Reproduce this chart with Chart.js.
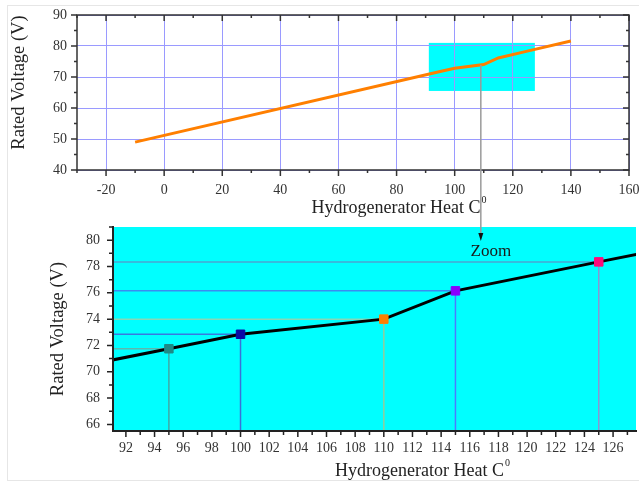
<!DOCTYPE html>
<html>
<head>
<meta charset="utf-8">
<script src="https://cdn.jsdelivr.net/npm/chart.js@4.4.1/dist/chart.umd.min.js"></script>
<style>
    body { margin: 0; background: #fff; width: 639px; height: 482px; overflow: hidden; position: relative; }
    .box { position: absolute; left: 0; width: 639px; }
    #frame { position: absolute; left: 7px; top: 5px; width: 640px; height: 474px; border: 1px solid #e6e6e6; }
    #overlay { position: absolute; left: 0; top: 0; pointer-events: none; }
</style>
</head>
<body>
<div id="frame"></div>
<div class="box" style="top:0;height:222px"><canvas id="topChart"></canvas></div>
<div class="box" style="top:214px;height:268px"><canvas id="zoomChart"></canvas></div>
<canvas id="overlay" width="639" height="482"></canvas>
<script>
// Datos
const HEAT = [-10, 95, 100, 110, 115, 125, 140];
const VOLT = [49.0, 71.75, 72.85, 74.0, 76.15, 78.35, 81.6];
// color del marcador por punto (null = sin marcador)
const MARKER_COLORS = [null, '#1f8a86', '#0a0aa6', '#ff7f00', '#8a00ff', '#ff0a7a', null];
const H_GUIDE = [null, '#5cb8ae', '#3a78e0', '#86d8b8', '#3a8cf0', '#4aa6d2', null];
const V_GUIDE = [null, '#40aaa6', '#3a70d8', '#92cc9c', '#4a7cff', '#8a96d0', null];

const TOP_X_TICKS = [-20, 0, 20, 40, 60, 80, 100, 120, 140, 160];
const TOP_Y_TICKS = [40, 50, 60, 70, 80, 90];
const ZOOM_X_TICKS = [92, 94, 96, 98, 100, 102, 104, 106, 108, 110, 112, 114, 116, 118, 120, 122, 124, 126];
const ZOOM_Y_TICKS = [66, 68, 70, 72, 74, 76, 78, 80];

const ZOOM_X = [91.1, 127.6];
const ZOOM_Y = [65.5, 81];
const ZOOM_MARK = [109, 73.9]; // de donde sale la flecha

const X_TITLE = 'Hydrogenerator Heat C';
const Y_TITLE = 'Rated Voltage (V)';
const SERIF = '"Liberation Serif", "Times New Roman", serif';

// Plugin: marco, ticks mayores/menores y títulos de ejes
const axisDecor = {
    id: 'axisDecor',
    beforeDraw(chart, args, o) {
        const { ctx, chartArea: a, scales } = chart;
        if (o.plotFill) {
            ctx.save();
            ctx.fillStyle = o.plotFill;
            ctx.fillRect(a.left, a.top, a.right - a.left, a.bottom - a.top);
            ctx.restore();
        }
        if (o.zoomRect) {
            const x0 = scales.x.getPixelForValue(ZOOM_X[0]);
            const x1 = scales.x.getPixelForValue(ZOOM_X[1]);
            const y0 = scales.y.getPixelForValue(ZOOM_Y[1]);
            const y1 = scales.y.getPixelForValue(ZOOM_Y[0]);
            ctx.save();
            ctx.fillStyle = '#00ffff';
            ctx.fillRect(x0, y0, x1 - x0, y1 - y0);
            ctx.restore();
        }
    },
    afterDraw(chart, args, o) {
        const { ctx, chartArea: a, scales } = chart;
        ctx.save();
        ctx.strokeStyle = o.axisColor;
        ctx.lineWidth = o.axisWidth;
        ctx.lineCap = 'square';

        // marco
        ctx.beginPath();
        if (o.box) {
            ctx.rect(a.left, a.top, a.right - a.left, a.bottom - a.top);
        } else {
            ctx.moveTo(a.left, a.top);
            ctx.lineTo(a.left, a.bottom);
            ctx.lineTo(a.right, a.bottom);
        }
        ctx.stroke();

        // ticks
        ctx.lineWidth = 1.5;
        ctx.lineCap = 'butt';
        const marks = (scale, step) => {
            const major = scale.ticks.map(t => t.value);
            const out = major.map(v => ({ v, len: o.majorLen }));
            for (let v = Math.ceil(scale.min / step) * step; v <= scale.max + 1e-9; v += step) {
                if (!major.some(m => Math.abs(m - v) < 1e-6)) out.push({ v, len: o.minorLen });
            }
            return out;
        };
        ctx.beginPath();
        o.sides.forEach(s => {
            const scale = s.edge === 'top' || s.edge === 'bottom' ? scales.x : scales.y;
            const step = scale === scales.x ? o.xMinor : o.yMinor;
            marks(scale, step).forEach(({ v, len }) => {
                const p = scale.getPixelForValue(v);
                if (s.edge === 'bottom') { ctx.moveTo(p, a.bottom); ctx.lineTo(p, a.bottom + len); }
                if (s.edge === 'top') { ctx.moveTo(p, a.top); ctx.lineTo(p, a.top + len); }
                if (s.edge === 'left') { ctx.moveTo(a.left, p); ctx.lineTo(a.left - len, p); }
                if (s.edge === 'right') { ctx.moveTo(a.right, p); ctx.lineTo(a.right - len, p); }
            });
        });
        ctx.stroke();

        // títulos
        ctx.fillStyle = '#222';
        ctx.font = '18px ' + SERIF;
        ctx.textBaseline = 'middle';
        ctx.textAlign = 'left';
        const w = ctx.measureText(X_TITLE).width;
        const cx = (a.left + a.right) / 2 + o.xTitleShift;
        ctx.fillText(X_TITLE, cx - w / 2, o.xTitleY);
        ctx.font = '10px ' + SERIF;
        ctx.fillText('0', cx + w / 2 + 1, o.xTitleY - 8);

        ctx.font = '18.5px ' + SERIF;
        ctx.textAlign = 'center';
        ctx.translate(o.yTitleX, (a.top + a.bottom) / 2 + o.yTitleShift);
        ctx.rotate(-Math.PI / 2);
        ctx.fillText(Y_TITLE, 0, 0);
        ctx.restore();
    }
};

function tickFont() {
    return { family: SERIF, size: 14 };
}

// sin relleno extra de los ejes: el área del gráfico la fija layout.padding
function fitAxis(prop, size) {
    return s => {
        s[prop] = size;
        s.paddingLeft = s.paddingRight = s.paddingTop = s.paddingBottom = 0;
    };
}

// Gráfico general
const topChart = new Chart(document.getElementById('topChart'), {
    type: 'line',
    data: {
        datasets: [{
            data: HEAT.map((x, i) => ({ x, y: VOLT[i] })),
            borderColor: '#ff7f00',
            borderWidth: 3,
            pointRadius: 0,
            tension: 0
        }]
    },
    options: {
        responsive: true,
        maintainAspectRatio: false,
        animation: false,
        layout: { padding: { top: 15, right: 10, left: 0, bottom: 0 } },
        plugins: {
            legend: { display: false },
            tooltip: { enabled: false },
            axisDecor: {
                box: true, axisColor: '#333', axisWidth: 1.5,
                majorLen: 6, minorLen: 3, xMinor: 10, yMinor: 5,
                sides: [{ edge: 'bottom' }, { edge: 'top' }, { edge: 'left' }, { edge: 'right' }],
                zoomRect: true,
                xTitleShift: 43, xTitleY: 208,
                yTitleX: 19, yTitleShift: -10
            }
        },
        scales: {
            x: {
                type: 'linear', min: -30, max: 160,
                afterBuildTicks: s => { s.ticks = TOP_X_TICKS.map(v => ({ value: v })); },
                afterFit: fitAxis('height', 52),
                grid: { color: '#9a9aff', lineWidth: 1, drawTicks: false },
                border: { display: false },
                ticks: { font: tickFont(), color: '#333', padding: 12, maxRotation: 0 }
            },
            y: {
                min: 40, max: 90,
                afterBuildTicks: s => { s.ticks = TOP_Y_TICKS.map(v => ({ value: v })); },
                afterFit: fitAxis('width', 77),
                grid: { color: '#9a9aff', lineWidth: 1, drawTicks: false },
                border: { display: false },
                ticks: { font: tickFont(), color: '#333', padding: 10 }
            }
        }
    },
    plugins: [axisDecor]
});

// Líneas guía del zoom (horizontal hasta el punto, vertical hasta el eje)
const guideSets = [];
HEAT.forEach((x, i) => {
    if (!MARKER_COLORS[i]) return;
    guideSets.push({
        data: [{ x: ZOOM_X[0], y: VOLT[i] }, { x, y: VOLT[i] }],
        borderColor: H_GUIDE[i], borderWidth: 1.5, pointRadius: 0
    });
    guideSets.push({
        data: [{ x, y: VOLT[i] }, { x, y: ZOOM_Y[0] }],
        borderColor: V_GUIDE[i], borderWidth: 1.5, pointRadius: 0
    });
});

// Gráfico del zoom
const zoomChart = new Chart(document.getElementById('zoomChart'), {
    type: 'line',
    data: {
        datasets: [{
            data: HEAT.map((x, i) => ({ x, y: VOLT[i] })),
            borderColor: '#000',
            borderWidth: 3,
            tension: 0,
            pointStyle: 'rect',
            pointRadius: c => MARKER_COLORS[c.dataIndex] ? 6 : 0,
            pointBackgroundColor: c => MARKER_COLORS[c.dataIndex] || '#000',
            pointBorderColor: c => MARKER_COLORS[c.dataIndex] || '#000',
            pointBorderWidth: 1
        }, ...guideSets]
    },
    options: {
        responsive: true,
        maintainAspectRatio: false,
        animation: false,
        layout: { padding: { top: 13, right: 3, left: 0, bottom: 0 } },
        plugins: {
            legend: { display: false },
            tooltip: { enabled: false },
            axisDecor: {
                box: false, axisColor: '#222', axisWidth: 2,
                majorLen: 6, minorLen: 4, xMinor: 1, yMinor: 1,
                sides: [{ edge: 'bottom' }, { edge: 'left' }],
                plotFill: '#00ffff',
                xTitleShift: 45, xTitleY: 257,
                yTitleX: 58, yTitleShift: 0
            }
        },
        scales: {
            x: {
                type: 'linear', min: ZOOM_X[0], max: ZOOM_X[1],
                afterBuildTicks: s => { s.ticks = ZOOM_X_TICKS.map(v => ({ value: v })); },
                afterFit: fitAxis('height', 51),
                grid: { display: false, drawTicks: false },
                border: { display: false },
                ticks: { font: tickFont(), color: '#333', padding: 9, maxRotation: 0, autoSkip: false }
            },
            y: {
                min: ZOOM_Y[0], max: ZOOM_Y[1],
                afterBuildTicks: s => { s.ticks = ZOOM_Y_TICKS.map(v => ({ value: v })); },
                afterFit: fitAxis('width', 113),
                grid: { display: false, drawTicks: false },
                border: { display: false },
                ticks: { font: tickFont(), color: '#333', padding: 13 }
            }
        }
    },
    plugins: [axisDecor]
});

// Flecha "Zoom" que une los dos gráficos
function drawOverlay() {
    const cv = document.getElementById('overlay');
    const ctx = cv.getContext('2d');
    ctx.clearRect(0, 0, cv.width, cv.height);
    const x = topChart.scales.x.getPixelForValue(ZOOM_MARK[0]);
    const y0 = topChart.scales.y.getPixelForValue(ZOOM_MARK[1]);
    const tip = 214 + zoomChart.chartArea.top + 14;
    ctx.strokeStyle = '#9a9a9a';
    ctx.lineWidth = 1.5;
    ctx.beginPath();
    ctx.moveTo(x, y0);
    ctx.lineTo(x, tip - 6);
    ctx.stroke();
    ctx.fillStyle = '#111';
    ctx.beginPath();
    ctx.moveTo(x - 2.5, tip - 8);
    ctx.lineTo(x + 2.5, tip - 8);
    ctx.lineTo(x, tip);
    ctx.closePath();
    ctx.fill();
    ctx.font = '17px ' + SERIF;
    ctx.fillStyle = '#1a1a1a';
    ctx.textAlign = 'center';
    ctx.textBaseline = 'middle';
    ctx.fillText('Zoom', x + 10, tip + 11);
}
drawOverlay();
</script>
</body>
</html>
